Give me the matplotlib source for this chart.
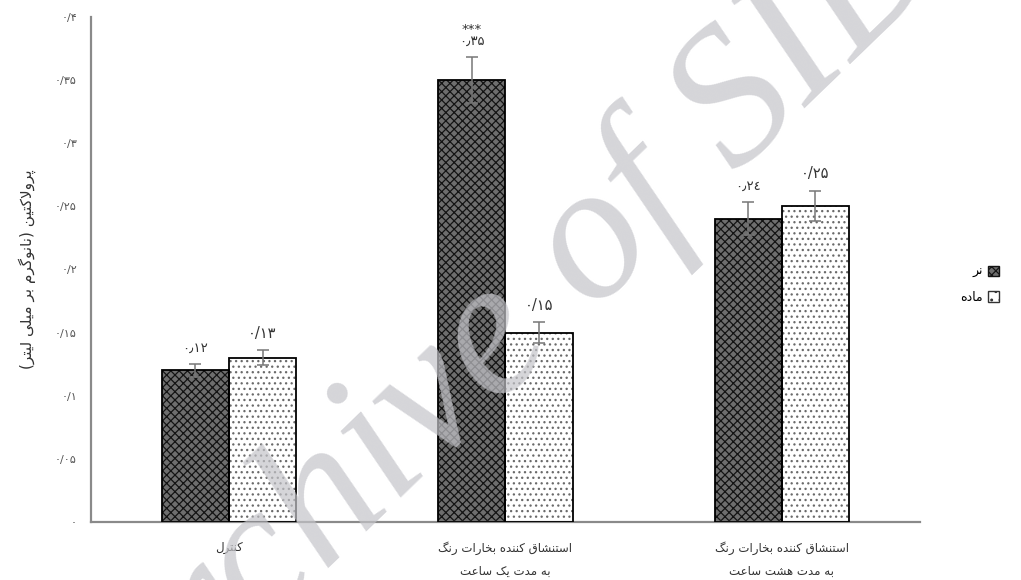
import matplotlib
matplotlib.use("Agg")
import matplotlib.pyplot as plt
from matplotlib.patches import Patch
import numpy as np

# ---------------- data ----------------
categories = ["کنترل",
              "استنشاق کننده بخارات رنگ\nبه مدت یک ساعت",
              "استنشاق کننده بخارات رنگ\nبه مدت هشت ساعت"]
series_names = ["نر", "ماده"]
male_values = [0.12, 0.35, 0.24]
female_values = [0.13, 0.15, 0.25]
male_errors = [0.005, 0.018, 0.013]
female_errors = [0.006, 0.008, 0.012]
male_labels = ["۰٫۱۲", "***\n۰٫۳۵", "۰٫۲٤"]
female_labels = ["۰/۱۳", "۰/۱۵", "۰/۲۵"]
ytick_values = [0, 0.05, 0.1, 0.15, 0.2, 0.25, 0.3, 0.35, 0.4]
ytick_labels = ["۰", "۰/۰۵", "۰/۱", "۰/۱۵", "۰/۲", "۰/۲۵", "۰/۳", "۰/۳۵", "۰/۴"]
ylabel = "پرولاکتین (نانوگرم بر میلی لیتر)"
watermark = "Archive of SID"

# ---------------- minimal Arabic/Persian shaping ----------------
FORMS = {
    'ا': ('\uFE8D', '\uFE8E'), 'آ': ('\uFE81', '\uFE82'),
    'ب': ('\uFE8F', '\uFE90', '\uFE91', '\uFE92'),
    'پ': ('\uFB56', '\uFB57', '\uFB58', '\uFB59'),
    'ت': ('\uFE95', '\uFE96', '\uFE97', '\uFE98'),
    'ث': ('\uFE99', '\uFE9A', '\uFE9B', '\uFE9C'),
    'ج': ('\uFE9D', '\uFE9E', '\uFE9F', '\uFEA0'),
    'چ': ('\uFB7A', '\uFB7B', '\uFB7C', '\uFB7D'),
    'ح': ('\uFEA1', '\uFEA2', '\uFEA3', '\uFEA4'),
    'خ': ('\uFEA5', '\uFEA6', '\uFEA7', '\uFEA8'),
    'د': ('\uFEA9', '\uFEAA'), 'ذ': ('\uFEAB', '\uFEAC'),
    'ر': ('\uFEAD', '\uFEAE'), 'ز': ('\uFEAF', '\uFEB0'),
    'ژ': ('\uFB8A', '\uFB8B'),
    'س': ('\uFEB1', '\uFEB2', '\uFEB3', '\uFEB4'),
    'ش': ('\uFEB5', '\uFEB6', '\uFEB7', '\uFEB8'),
    'ص': ('\uFEB9', '\uFEBA', '\uFEBB', '\uFEBC'),
    'ض': ('\uFEBD', '\uFEBE', '\uFEBF', '\uFEC0'),
    'ط': ('\uFEC1', '\uFEC2', '\uFEC3', '\uFEC4'),
    'ظ': ('\uFEC5', '\uFEC6', '\uFEC7', '\uFEC8'),
    'ع': ('\uFEC9', '\uFECA', '\uFECB', '\uFECC'),
    'غ': ('\uFECD', '\uFECE', '\uFECF', '\uFED0'),
    'ف': ('\uFED1', '\uFED2', '\uFED3', '\uFED4'),
    'ق': ('\uFED5', '\uFED6', '\uFED7', '\uFED8'),
    'ک': ('\uFB8E', '\uFB8F', '\uFB90', '\uFB91'),
    'گ': ('\uFB92', '\uFB93', '\uFB94', '\uFB95'),
    'ل': ('\uFEDD', '\uFEDE', '\uFEDF', '\uFEE0'),
    'م': ('\uFEE1', '\uFEE2', '\uFEE3', '\uFEE4'),
    'ن': ('\uFEE5', '\uFEE6', '\uFEE7', '\uFEE8'),
    'ه': ('\uFEE9', '\uFEEA', '\uFEEB', '\uFEEC'),
    'و': ('\uFEED', '\uFEEE'),
    'ی': ('\uFBFC', '\uFBFD', '\uFBFE', '\uFBFF'),
}
MIRROR = {'(': ')', ')': '('}


def _dual(c):
    return c in FORMS and len(FORMS[c]) == 4


def shape_line(text):
    res = []
    n = len(text)
    i = 0
    while i < n:
        c = text[i]
        if c not in FORMS:
            res.append(MIRROR.get(c, c))
            i += 1
            continue
        prev = text[i - 1] if i > 0 else None
        joins_prev = prev is not None and _dual(prev)
        if c == 'ل' and i + 1 < n and text[i + 1] in ('ا', 'آ'):
            if text[i + 1] == 'ا':
                res.append('\uFEFC' if joins_prev else '\uFEFB')
            else:
                res.append('\uFEF6' if joins_prev else '\uFEF5')
            i += 2
            continue
        nxt = text[i + 1] if i + 1 < n else None
        joins_next = _dual(c) and nxt in FORMS
        f = FORMS[c]
        if joins_prev and joins_next:
            g = f[3]
        elif joins_prev:
            g = f[1]
        elif joins_next:
            g = f[2]
        else:
            g = f[0]
        res.append(g)
        i += 1
    return ''.join(reversed(res))


def fa(text):
    return '\n'.join(shape_line(line) for line in text.split('\n'))


# ---------------- figure ----------------
plt.rcParams['font.family'] = ['DejaVu Sans']
plt.rcParams['hatch.linewidth'] = 0.9

fig = plt.figure(figsize=(10.21, 5.80), dpi=100)
ax = fig.add_axes([0.089, 0.1, 0.812, 0.871])

x = np.arange(len(categories))
w = 0.243

# male bars: dark mesh
ax.bar(x - w / 2, male_values, w, facecolor='#6e6e6e', edgecolor='#141414',
       hatch='xxxx', linewidth=0, zorder=2)
ax.bar(x - w / 2, male_values, w, fill=False, edgecolor='black', linewidth=1.3, zorder=3)
# female bars: white with dots
ax.bar(x + w / 2, female_values, w, facecolor='white', edgecolor='#6a6a6a',
       hatch='...', linewidth=0, zorder=2)
ax.bar(x + w / 2, female_values, w, fill=False, edgecolor='black', linewidth=1.3, zorder=3)

ax.errorbar(x - w / 2, male_values, yerr=male_errors, fmt='none', ecolor='#777777',
            elinewidth=1.1, capsize=4, capthick=1.1, zorder=4)
ax.errorbar(x + w / 2, female_values, yerr=female_errors, fmt='none', ecolor='#777777',
            elinewidth=1.1, capsize=4, capthick=1.1, zorder=4)

for xi, v, e, lab in zip(x - w / 2, male_values, male_errors, male_labels):
    ax.annotate(lab, (xi, v + e), xytext=(0, 7), textcoords='offset points',
                ha='center', va='bottom', fontsize=9.5, color='#333333',
                linespacing=0.9)
for xi, v, e, lab in zip(x + w / 2, female_values, female_errors, female_labels):
    ax.annotate(lab, (xi, v + e), xytext=(0, 7), textcoords='offset points',
                ha='center', va='bottom', fontsize=10.5, color='#333333')

ax.set_xlim(-0.5, 2.5)
ax.set_ylim(0, 0.4)
ax.set_yticks(ytick_values)
ax.set_yticklabels(ytick_labels, fontsize=8, color='#555555')
ax.set_xticks(x)
ax.set_xticklabels([fa(c) for c in categories], fontsize=8.5, color='#333333',
                   linespacing=2.0)
ax.tick_params(axis='both', length=0)
ax.tick_params(axis='y', pad=10)
ax.tick_params(axis='x', pad=14)

for s in ['top', 'right']:
    ax.spines[s].set_visible(False)
for s in ['left', 'bottom']:
    ax.spines[s].set_color('#8a8a8a')
    ax.spines[s].set_linewidth(1.6)

ax.set_ylabel(fa(ylabel), fontsize=11, color='#333333', labelpad=14)

handles = [Patch(facecolor='#6e6e6e', edgecolor='#141414', hatch='xxxx', linewidth=1.0),
           Patch(facecolor='white', edgecolor='#333333', hatch='..', linewidth=1.0)]
ax.legend(handles, [fa(s) for s in series_names], loc='center left',
          bbox_to_anchor=(1.035, 0.47), frameon=False, markerfirst=False,
          handlelength=0.9, handleheight=0.9, handletextpad=0.4, labelspacing=1.0,
          fontsize=9)

fig.text(0.50, 0.42, watermark, fontfamily='Liberation Serif', style='italic',
         fontsize=140, color='#c4c4c9', alpha=0.7, rotation=44,
         ha='center', va='center', rotation_mode='anchor', zorder=10)

fig.savefig('out.png', dpi=100)
